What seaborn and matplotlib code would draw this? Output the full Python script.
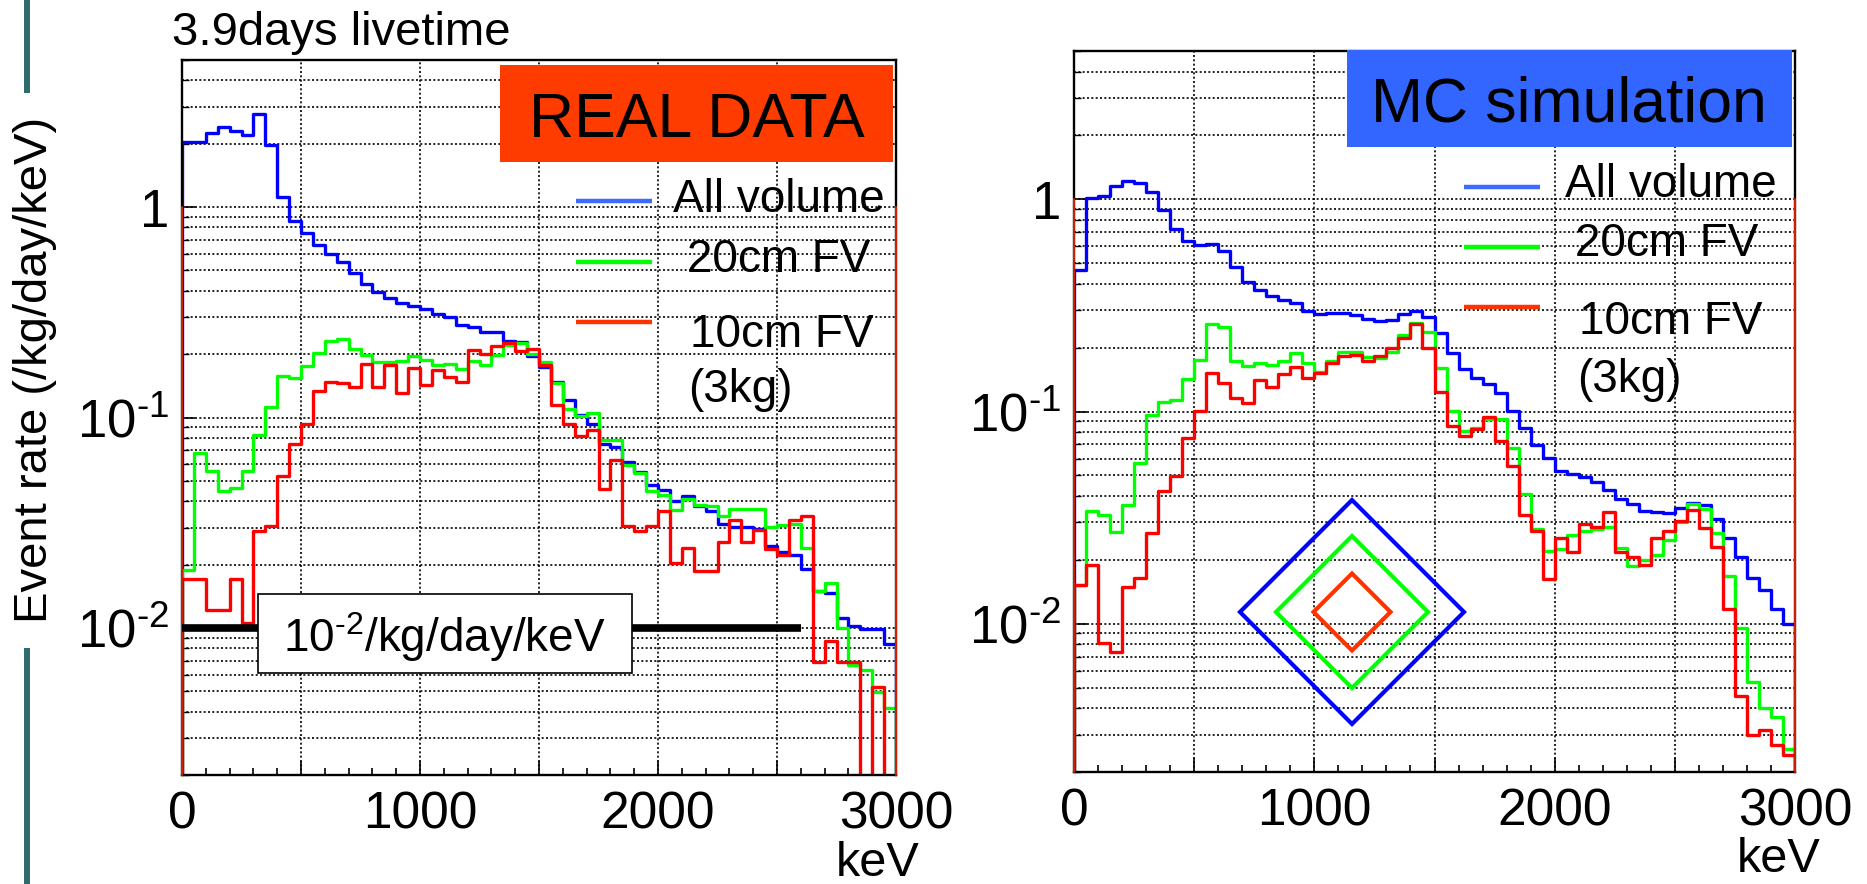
import numpy as np
import pandas as pd
import matplotlib
matplotlib.use("Agg")
import matplotlib.pyplot as plt
from matplotlib.lines import Line2D
from matplotlib.patches import Rectangle, Polygon
from matplotlib.ticker import MultipleLocator, LogLocator, NullFormatter
import seaborn as sns

# 50 keV bins, 0 - 3000 keV
bin_edges = np.arange(0, 3001, 50)

# event rate (/kg/day/keV), one value per bin
real_all = [2.03, 2.03, 2.24, 2.39, 2.29, 2.21, 2.77, 1.97, 1.12, 0.858,
            0.755, 0.660, 0.598, 0.550, 0.484, 0.433, 0.394, 0.371, 0.349, 0.340,
            0.328, 0.310, 0.299, 0.275, 0.268, 0.254, 0.256, 0.232, 0.228, 0.195,
            0.173, 0.148, 0.1205, 0.103, 0.0934, 0.0751, 0.0725, 0.0615, 0.0548, 0.0478,
            0.0453, 0.0399, 0.0424, 0.0378, 0.0358, 0.0312, 0.0302, 0.0302, 0.0295, 0.0246,
            0.0229, 0.0221, 0.0190, 0.0150, 0.0147, 0.0112, 0.01025, 0.0099, 0.0099, 0.0084]
real_20cm = [0.0188, 0.0681, 0.0556, 0.0448, 0.0461, 0.0556, 0.0822, 0.112, 0.158, 0.154,
             0.175, 0.202, 0.232, 0.235, 0.212, 0.198, 0.184, 0.183, 0.186, 0.195,
             0.188, 0.177, 0.179, 0.170, 0.186, 0.178, 0.198, 0.221, 0.225, 0.200,
             0.184, 0.1455, 0.110, 0.102, 0.1048, 0.0779, 0.0779, 0.0594, 0.0546, 0.0445,
             0.0429, 0.0364, 0.0409, 0.0385, 0.0378, 0.0341, 0.0367, 0.0367, 0.0367, 0.0302,
             0.0310, 0.0312, 0.0240, 0.0150, 0.0164, 0.00996, 0.00669, 0.00629, 0.00497, 0.00415]
real_10cm = [0.01715, 0.01715, 0.01212, 0.01212, 0.01715, 0.0106, 0.0288, 0.0306, 0.0527, 0.0751,
             0.0933, 0.133, 0.148, 0.1455, 0.140, 0.179, 0.139, 0.178, 0.131, 0.1715,
             0.142, 0.168, 0.155, 0.147, 0.210, 0.200, 0.219, 0.227, 0.206, 0.212,
             0.178, 0.115, 0.0933, 0.0814, 0.0869, 0.0456, 0.0627, 0.0304, 0.0288, 0.0306,
             0.0360, 0.0204, 0.0240, 0.01864, 0.01864, 0.0257, 0.0325, 0.0256, 0.0291, 0.0238,
             0.0223, 0.0325, 0.0339, 0.00689, 0.00865, 0.00689, 0.00689, 0.0, 0.00525, 0.0]

mc_all = [0.464, 1.014, 1.033, 1.155, 1.22, 1.193, 1.083, 0.888, 0.728, 0.635,
          0.606, 0.619, 0.569, 0.481, 0.409, 0.373, 0.351, 0.335, 0.323, 0.2985,
          0.289, 0.290, 0.292, 0.285, 0.273, 0.267, 0.269, 0.287, 0.297, 0.280,
          0.2335, 0.188, 0.1587, 0.1445, 0.1344, 0.122, 0.1007, 0.0835, 0.0692, 0.0605,
          0.0527, 0.0508, 0.0491, 0.0465, 0.0428, 0.0388, 0.0367, 0.0338, 0.0336, 0.0332,
          0.0352, 0.0371, 0.0361, 0.0310, 0.0253, 0.0206, 0.01647, 0.01445, 0.01177, 0.00993]
mc_20cm = [0.01515, 0.0338, 0.0326, 0.0270, 0.0361, 0.0571, 0.0964, 0.1114, 0.1135, 0.1424,
           0.175, 0.2594, 0.251, 0.173, 0.164, 0.170, 0.1657, 0.173, 0.188, 0.1688,
           0.154, 0.173, 0.1915, 0.1915, 0.1815, 0.178, 0.1915, 0.229, 0.260, 0.2377,
           0.161, 0.101, 0.0805, 0.0835, 0.0924, 0.0924, 0.0672, 0.041, 0.0278, 0.022,
           0.0224, 0.0261, 0.0272, 0.0280, 0.0285, 0.0227, 0.0187, 0.0199, 0.0211, 0.0249,
           0.0301, 0.0367, 0.0346, 0.0268, 0.01677, 0.00955, 0.00531, 0.00401, 0.00363, 0.00256]
mc_10cm = [0.01515, 0.01897, 0.00814, 0.00735, 0.0149, 0.01647, 0.0268, 0.0420, 0.0496, 0.0751,
           0.101, 0.1515, 0.1369, 0.1155, 0.1094, 0.141, 0.131, 0.1498, 0.1629, 0.1434,
           0.1515, 0.1688, 0.1834, 0.185, 0.173, 0.1834, 0.2, 0.221, 0.2575, 0.1986,
           0.124, 0.0859, 0.0766, 0.0829, 0.094, 0.073, 0.0551, 0.0326, 0.0273, 0.0162,
           0.0253, 0.0218, 0.0294, 0.0285, 0.0336, 0.0218, 0.0206, 0.01897, 0.0254, 0.0273,
           0.0304, 0.0342, 0.0283, 0.0230, 0.01177, 0.00455, 0.0030, 0.00317, 0.00269, 0.0024]

region_names = ["All volume", "20cm FV", "10cm FV"]
line_colors = ["#0000ff", "#00ff00", "#ff0000"]
legend_colors = ["#3d6bff", "#00ff00", "#ff3300"]

y_ticks = [1e-2, 1e-1, 1]
y_tick_labels = [r"$10^{\text{-}2}$", r"$10^{\text{-}1}$", "1"]
x_ticks = np.arange(0, 3001, 500)
x_tick_labels = ["0", "", "1000", "", "2000", "", "3000"]

limit_rate = 1e-2      # 10^-2 /kg/day/keV goal line
limit_end = 2600

sns.set_style("white")
plt.rcParams["font.family"] = ["Liberation Sans", "DejaVu Sans"]
plt.rcParams["mathtext.fontset"] = "custom"
plt.rcParams["mathtext.rm"] = "Liberation Sans"
plt.rcParams["mathtext.it"] = "Liberation Sans:italic"
plt.rcParams["mathtext.bf"] = "Liberation Sans:bold"
for key in ["text.color", "axes.labelcolor", "xtick.color", "ytick.color", "axes.edgecolor"]:
    plt.rcParams[key] = "black"

W, H = 1867, 884


def fx(px):
    return px / W


def fy(py):
    return 1 - py / H


def outline_frame(series):
    # ROOT style outline: rise from the bottom at 0 keV, fall back at 3000 keV
    rows = []
    for name, vals in zip(region_names, series):
        xs = np.concatenate([[bin_edges[0]], bin_edges, [bin_edges[-1]]])
        ys = np.concatenate([[0.0], vals, [vals[-1]], [0.0]])
        rows.append(pd.DataFrame({"keV": xs, "rate": ys, "region": name}))
    return pd.concat(rows, ignore_index=True)


def style_axes(ax):
    ax.set_yscale("log")
    ax.set_xlim(0, 3000)
    ax.set_ylim(2e-3, 5)
    ax.set_xlabel("")
    ax.set_ylabel("")
    ax.set_xticks(x_ticks, labels=x_tick_labels)
    ax.xaxis.set_minor_locator(MultipleLocator(100))
    ax.set_yticks(y_ticks, labels=y_tick_labels)
    ax.yaxis.set_minor_locator(LogLocator(base=10, subs=np.arange(2, 10)))
    ax.yaxis.set_minor_formatter(NullFormatter())
    ax.tick_params(axis="x", which="major", direction="in", length=10, width=1.2,
                   labelsize=37, pad=11, bottom=True, top=False)
    ax.tick_params(axis="x", which="minor", direction="in", length=5, width=1.2,
                   bottom=True, top=False)
    ax.tick_params(axis="y", which="major", direction="in", length=9, width=1.2,
                   labelsize=38, pad=9, left=True, right=False)
    ax.tick_params(axis="y", which="minor", direction="in", length=5, width=1.0,
                   left=True, right=False)
    ax.set_axisbelow(True)
    grid_kw = dict(color="black", linestyle=(0, (1.2, 1.4)), linewidth=1.2)
    ax.grid(True, which="major", axis="x", **grid_kw)
    ax.grid(True, which="both", axis="y", **grid_kw)
    for sp in ax.spines.values():
        sp.set_color("black")
        sp.set_linewidth(1.7)
    # thin red frame marks on both edges below 1
    for xe in (0, 3000):
        ax.plot([xe, xe], [1, 2e-3], color="#d42000", lw=1.4, zorder=3, clip_on=False)


fig = plt.figure(figsize=(W / 100, H / 100), dpi=100)
ax_l = fig.add_axes([fx(182), fy(775), 714 / W, 715 / H])
ax_r = fig.add_axes([fx(1074), fy(772), 721 / W, 721 / H])

for ax, series in [(ax_l, [real_all, real_20cm, real_10cm]),
                   (ax_r, [mc_all, mc_20cm, mc_10cm])]:
    sns.lineplot(data=outline_frame(series), x="keV", y="rate", hue="region",
                 hue_order=region_names, palette=line_colors, estimator=None,
                 sort=False, drawstyle="steps-post", linewidth=2.4,
                 legend=False, ax=ax, zorder=2)
    style_axes(ax)

ax_l.hlines(limit_rate, 0, limit_end, color="black", lw=5.5, zorder=3)

# left panel annotations
fig.text(fx(172), fy(45), "3.9days livetime", fontsize=34, va="baseline")
fig.add_artist(Rectangle((fx(500), fy(162)), 393 / W, 97 / H,
                         transform=fig.transFigure, facecolor="#ff3c00",
                         edgecolor="none", zorder=4))
fig.text(fx(697), fy(136.7), "REAL DATA", fontsize=45, ha="center", va="baseline",
         zorder=5)
fig.add_artist(Rectangle((fx(258), fy(673)), 374 / W, 79 / H,
                         transform=fig.transFigure, facecolor="white",
                         edgecolor="black", lw=1.2, zorder=4))
fig.text(fx(283), fy(651.7), r"$\mathregular{10^{\text{-}2}/kg/day/keV}$", fontsize=33,
         va="baseline", zorder=5)

# right panel annotations
fig.add_artist(Rectangle((fx(1347), fy(147)), 445 / W, 97 / H,
                         transform=fig.transFigure, facecolor="#3366ff",
                         edgecolor="none", zorder=4))
fig.text(fx(1569), fy(121.7), "MC simulation", fontsize=45, ha="center",
         va="baseline", zorder=5)

# legends (line sample + text) for both panels
legend_specs = [
    (576, 652, [200.7, 261.7, 321.7], [(673, 211.7), (687, 272), (690, 347.3), (688, 401.7)]),
    (1464, 1540, [186.7, 246.7, 306.7], [(1565, 196.7), (1575, 255.7), (1579, 334), (1577, 391.7)]),
]
for x0, x1, line_ys, text_pos in legend_specs:
    for ly, col in zip(line_ys, legend_colors):
        fig.add_artist(Line2D([fx(x0), fx(x1)], [fy(ly), fy(ly)], color=col, lw=3.2,
                              solid_capstyle="butt", transform=fig.transFigure, zorder=5))
    for (tx, ty), label in zip(text_pos, region_names + ["(3kg)"]):
        fig.text(fx(tx), fy(ty), label, fontsize=33, va="baseline", zorder=5)

# nested fiducial volume diamonds
cx, cy = 1352, 612
for half, col in [(112, "#0000ff"), (76, "#00ff00"), (38.5, "#ff3300")]:
    pts = [(fx(cx - half), fy(cy)), (fx(cx), fy(cy - half)),
           (fx(cx + half), fy(cy)), (fx(cx), fy(cy + half))]
    fig.add_artist(Polygon(pts, closed=True, fill=False, edgecolor=col, lw=3.0,
                           joinstyle="miter", transform=fig.transFigure, zorder=5))

# axis titles
fig.text(fx(35), fy(370), "Event rate (/kg/day/keV)", rotation=90, ha="center",
         va="center", fontsize=34)
fig.text(fx(836), fy(876), "keV", fontsize=35, va="baseline")
fig.text(fx(1737), fy(872), "keV", fontsize=35, va="baseline")

# slide decoration bar on the far left
for y0, y1 in [(0, 93), (648, 884)]:
    fig.add_artist(Line2D([fx(27), fx(27)], [fy(y0), fy(y1)], color="#2f6b6b", lw=4.3,
                          solid_capstyle="butt", transform=fig.transFigure))

fig.savefig("out.png", dpi=100)
